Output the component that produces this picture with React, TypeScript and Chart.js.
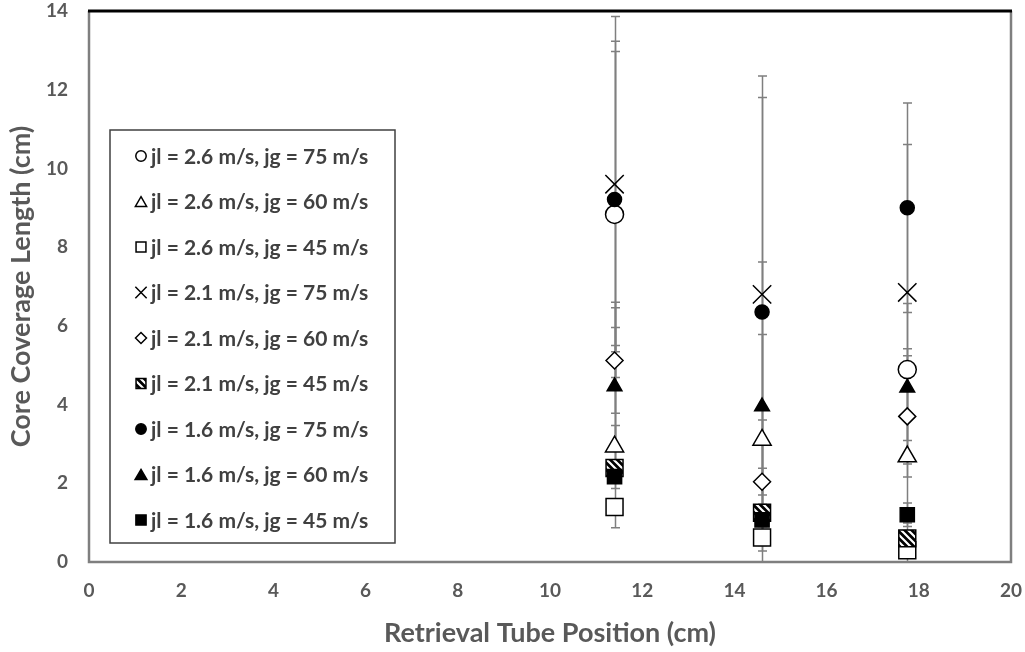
import React, { useEffect, useRef } from 'react';
import { Chart, registerables } from 'chart.js';

Chart.register(...registerables);

// ---- data ----
const xPositions = [11.4, 14.6, 17.75];

const legendLabels = [
  'jl = 2.6 m/s, jg = 75 m/s',
  'jl = 2.6 m/s, jg = 60 m/s',
  'jl = 2.6 m/s, jg = 45 m/s',
  'jl = 2.1 m/s, jg = 75 m/s',
  'jl = 2.1 m/s, jg = 60 m/s',
  'jl = 2.1 m/s, jg = 45 m/s',
  'jl = 1.6 m/s, jg = 75 m/s',
  'jl = 1.6 m/s, jg = 60 m/s',
  'jl = 1.6 m/s, jg = 45 m/s',
];

const jl26jg75 = [8.83, null, 4.89];
const jl26jg60 = [2.93, 3.1, 2.68];
const jl26jg45 = [1.4, 0.62, 0.3];
const jl21jg75 = [9.6, 6.8, 6.85];
const jl21jg60 = [5.12, 2.04, 3.7];
const jl21jg45 = [2.39, 1.25, 0.6];
const jl16jg75 = [9.21, 6.35, 9.0];
const jl16jg60 = [4.46, 3.95, 4.43];
const jl16jg45 = [2.17, 1.07, 1.2];

// error bar amounts (plus / minus)
const errPlus26_75 = [4.14, null, 0.53];
const errMinus26_75 = [4.14, null, 0.53];
const errPlus26_60 = [0.54, 2.68, 1.69];
const errMinus26_60 = [0.54, 2.68, 1.69];
const errPlus26_45 = [0.6, 0.05, 0.1];
const errMinus26_45 = [0.53, 0.05, 0.1];
const errPlus21_75 = [4.26, 5.55, 3.76];
const errMinus21_75 = [4.26, 5.55, 3.76];
const errPlus21_60 = [1.34, 0.34, 1.54];
const errMinus21_60 = [1.34, 0.34, 1.54];
const errPlus21_45 = [3.11, 2.36, 0.6];
const errMinus21_45 = [0.3, 2.36, 0.6];
const errPlus16_75 = [4.02, 5.45, 2.66];
const errMinus16_75 = [4.02, 5.45, 2.66];
const errPlus16_60 = [1.5, 3.67, 2.14];
const errMinus16_60 = [1.5, 3.67, 1.94];
const errPlus16_45 = [4.43, 0.4, 0.3];
const errMinus16_45 = [0.3, 0.4, 0.3];

const seriesValues = [jl26jg75, jl26jg60, jl26jg45, jl21jg75, jl21jg60, jl21jg45, jl16jg75, jl16jg60, jl16jg45];
const seriesErrPlus = [errPlus26_75, errPlus26_60, errPlus26_45, errPlus21_75, errPlus21_60, errPlus21_45, errPlus16_75, errPlus16_60, errPlus16_45];
const seriesErrMinus = [errMinus26_75, errMinus26_60, errMinus26_45, errMinus21_75, errMinus21_60, errMinus21_45, errMinus16_75, errMinus16_60, errMinus16_45];

// ---- styles ----
const FONT = 'Lato, "Open Sans", sans-serif';
const AXIS_COLOR = '#595959';

function makeHatch(): CanvasPattern | string {
  const c = document.createElement('canvas');
  const s = 7;
  c.width = s;
  c.height = s;
  const g = c.getContext('2d');
  if (!g) return '#000';
  g.fillStyle = '#000';
  g.fillRect(0, 0, s, s);
  g.strokeStyle = '#fff';
  g.lineWidth = 2.2;
  g.beginPath();
  g.moveTo(-1, -1); g.lineTo(s + 1, s + 1);
  g.moveTo(-1, s - 1); g.lineTo(1, s + 1);
  g.moveTo(s - 1, -1); g.lineTo(s + 1, 1);
  g.stroke();
  const p = g.createPattern(c, 'repeat');
  return p || '#000';
}

type MarkerStyle = { style: string; r: number; lr: number; fill: string | CanvasPattern; };

function drawMarker(ctx: CanvasRenderingContext2D, style: string, x: number, y: number, r: number, fill: any, stroke: string, lw: number) {
  ctx.save();
  ctx.beginPath();
  ctx.lineWidth = lw;
  ctx.strokeStyle = stroke;
  let doFill = true;
  switch (style) {
    case 'circle':
      ctx.arc(x, y, r, 0, Math.PI * 2);
      break;
    case 'triangle': {
      let rad = 0;
      ctx.moveTo(x + Math.sin(rad) * r, y - Math.cos(rad) * r);
      rad += (2 * Math.PI) / 3;
      ctx.lineTo(x + Math.sin(rad) * r, y - Math.cos(rad) * r);
      rad += (2 * Math.PI) / 3;
      ctx.lineTo(x + Math.sin(rad) * r, y - Math.cos(rad) * r);
      ctx.closePath();
      break;
    }
    case 'rect': {
      const s = r * Math.SQRT1_2;
      ctx.rect(x - s, y - s, 2 * s, 2 * s);
      break;
    }
    case 'rectRot':
      ctx.moveTo(x - r, y);
      ctx.lineTo(x, y - r);
      ctx.lineTo(x + r, y);
      ctx.lineTo(x, y + r);
      ctx.closePath();
      break;
    case 'crossRot': {
      const d = r * Math.SQRT1_2;
      ctx.moveTo(x - d, y - d); ctx.lineTo(x + d, y + d);
      ctx.moveTo(x + d, y - d); ctx.lineTo(x - d, y + d);
      doFill = false;
      break;
    }
  }
  if (doFill) {
    ctx.fillStyle = fill;
    ctx.fill();
  }
  ctx.stroke();
  ctx.restore();
}

export default function App() {
  const ref = useRef<HTMLCanvasElement | null>(null);

  useEffect(() => {
    document.body.style.margin = '0';
    const canvas = ref.current;
    if (!canvas) return;
    const hatch = makeHatch();

    const markers: MarkerStyle[] = [
      { style: 'circle', r: 9, lr: 5.2, fill: '#ffffff' },
      { style: 'triangle', r: 10.5, lr: 6.5, fill: '#ffffff' },
      { style: 'rect', r: 12, lr: 7, fill: '#ffffff' },
      { style: 'crossRot', r: 13, lr: 8, fill: '#000000' },
      { style: 'rectRot', r: 8.5, lr: 5.5, fill: '#ffffff' },
      { style: 'rect', r: 12, lr: 7, fill: hatch },
      { style: 'circle', r: 7, lr: 5.2, fill: '#000000' },
      { style: 'triangle', r: 8.5, lr: 6.8, fill: '#000000' },
      { style: 'rect', r: 10, lr: 7.2, fill: '#000000' },
    ];

    const datasets = seriesValues.map((vals, i) => ({
      label: legendLabels[i],
      data: vals.map((v, j) => ({ x: xPositions[j], y: v })),
      pointStyle: markers[i].style,
      pointRadius: markers[i].r,
      pointHoverRadius: markers[i].r,
      pointBackgroundColor: markers[i].fill,
      pointBorderColor: '#000000',
      pointBorderWidth: 1.5,
      showLine: false,
      clip: false as any,
      order: -i,
    }));

    const errorBarPlugin = {
      id: 'errorBars',
      beforeDatasetsDraw(chart: any) {
        const { ctx, chartArea, scales } = chart;
        const xs = scales.x;
        const ys = scales.y;
        ctx.save();
        ctx.beginPath();
        ctx.rect(chartArea.left, chartArea.top, chartArea.right - chartArea.left, chartArea.bottom - chartArea.top);
        ctx.clip();
        ctx.strokeStyle = '#7f7f7f';
        ctx.lineWidth = 1.5;
        const cap = 4.5;
        seriesValues.forEach((vals, i) => {
          vals.forEach((v, j) => {
            if (v === null || v === undefined) return;
            const up = seriesErrPlus[i][j];
            const dn = seriesErrMinus[i][j];
            if (up === null || dn === null) return;
            const x = Math.round(xs.getPixelForValue(xPositions[j])) + 0.5;
            const yT = ys.getPixelForValue((v as number) + (up as number));
            const yB = ys.getPixelForValue((v as number) - (dn as number));
            ctx.beginPath();
            ctx.moveTo(x, yT);
            ctx.lineTo(x, yB);
            ctx.moveTo(x - cap, yT);
            ctx.lineTo(x + cap, yT);
            ctx.moveTo(x - cap, yB);
            ctx.lineTo(x + cap, yB);
            ctx.stroke();
          });
        });
        ctx.restore();

        // plot border
        ctx.save();
        const { left, right, top, bottom } = chartArea;
        ctx.strokeStyle = '#7f7f7f';
        ctx.lineWidth = 2.5;
        ctx.beginPath();
        ctx.moveTo(left, top);
        ctx.lineTo(left, bottom);
        ctx.lineTo(right, bottom);
        ctx.lineTo(right, top);
        ctx.stroke();
        ctx.strokeStyle = '#000000';
        ctx.lineWidth = 3;
        ctx.beginPath();
        ctx.moveTo(left - 1, top);
        ctx.lineTo(right + 1, top);
        ctx.stroke();
        ctx.restore();
      },
    };

    const legendPlugin = {
      id: 'customLegend',
      afterDraw(chart: any) {
        const { ctx } = chart;
        const bx = 110, by = 130, bw = 285, bh = 413;
        ctx.save();
        ctx.fillStyle = '#ffffff';
        ctx.fillRect(bx, by, bw, bh);
        ctx.strokeStyle = '#404040';
        ctx.lineWidth = 1.5;
        ctx.strokeRect(bx, by, bw, bh);
        const startY = 156;
        const step = 45.5;
        ctx.font = `bold 21px ${FONT}`;
        ctx.fillStyle = '#404040';
        ctx.textBaseline = 'middle';
        ctx.textAlign = 'left';
        legendLabels.forEach((lab, i) => {
          const y = startY + i * step;
          const m = markers[i];
          const my = m.style === 'triangle' ? y + m.lr * 0.25 : y;
          drawMarker(ctx, m.style, 141, my, m.lr, m.fill, '#000000', 1.5);
          ctx.fillStyle = '#404040';
          ctx.fillText(lab, 151, y + 1);
        });
        ctx.restore();
      },
    };

    const chart = new Chart(canvas, {
      type: 'scatter',
      data: { datasets: datasets as any },
      options: {
        responsive: false,
        animation: false,
        layout: { autoPadding: false, padding: { left: 0, right: 14, top: 11, bottom: 0 } },
        plugins: {
          legend: { display: false },
          tooltip: { enabled: false },
        },
        scales: {
          x: {
            type: 'linear',
            min: 0,
            max: 20,
            ticks: {
              stepSize: 2,
              color: AXIS_COLOR,
              font: { family: FONT, size: 19, weight: 'bold' },
              padding: 9,
            },
            grid: { display: false },
            border: { display: false },
            title: {
              display: true,
              text: 'Retrieval Tube Position (cm)',
              color: AXIS_COLOR,
              font: { family: FONT, size: 27, weight: 'bold' },
              padding: { top: 0, bottom: 3 },
            },
            afterFit: (s: any) => {
              s.height = 90;
              s.paddingLeft = 0;
              s.paddingRight = 0;
            },
          },
          y: {
            type: 'linear',
            min: 0,
            max: 14,
            ticks: {
              stepSize: 2,
              color: AXIS_COLOR,
              font: { family: FONT, size: 19, weight: 'bold' },
              padding: 13,
            },
            grid: { display: false },
            border: { display: false },
            title: {
              display: true,
              text: 'Core Coverage Length (cm)',
              color: AXIS_COLOR,
              font: { family: FONT, size: 27, weight: 'bold' },
              padding: { top: 5, bottom: 0 },
            },
            afterFit: (s: any) => {
              s.width = 89;
              s.paddingTop = 0;
              s.paddingBottom = 0;
            },
          },
        },
      },
      plugins: [errorBarPlugin, legendPlugin],
    });

    return () => {
      chart.destroy();
    };
  }, []);

  return (
    <div style={{ width: 1025, height: 652, position: 'relative', background: '#fff' }}>
      <canvas ref={ref} width={1025} height={652} style={{ display: 'block' }} />
    </div>
  );
}
